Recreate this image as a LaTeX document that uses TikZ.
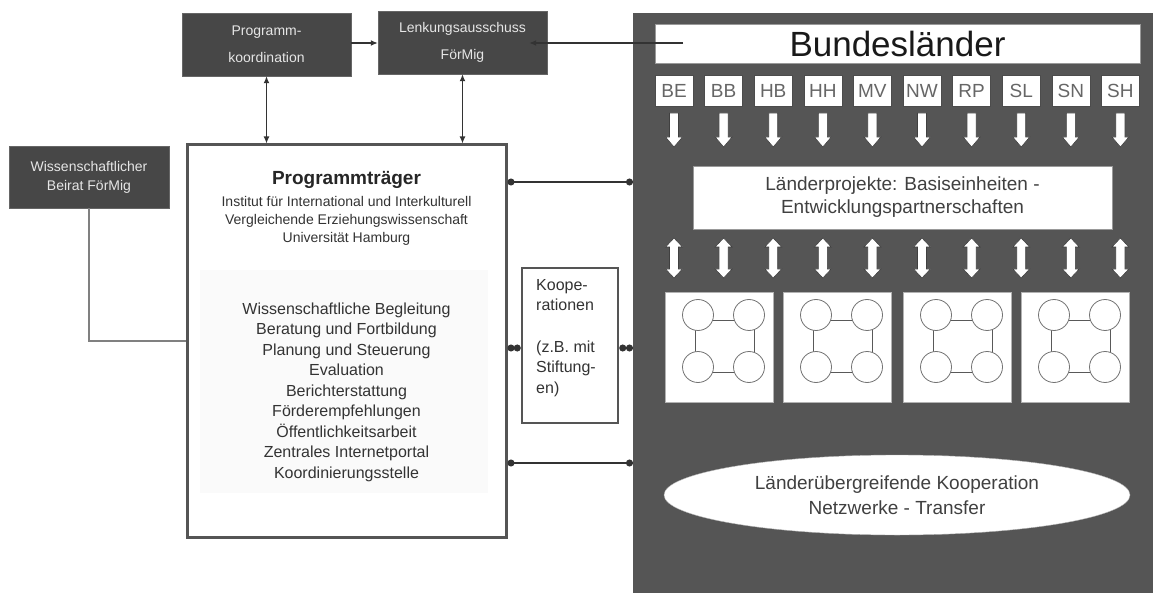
\documentclass[tikz,border=0pt]{standalone}
\usepackage{fontspec}
\setmainfont{Liberation Sans}
\usetikzlibrary{arrows.meta,shapes.geometric,calc}
\definecolor{darkbox}{HTML}{474747}
\definecolor{panelc}{HTML}{555555}
\definecolor{boxtext}{HTML}{E6E6E6}
\definecolor{linec}{HTML}{333333}
\tikzset{
  darkrect/.style={draw=black!60, fill=darkbox, text=boxtext, minimum width=169pt, minimum height=63pt, inner sep=0pt, align=center, font=\fontsize{14}{27}\selectfont},
  abbr/.style={draw=black!70, fill=white, text=black!60, minimum width=38pt, minimum height=31pt, inner sep=0pt, font=\fontsize{19}{22}\selectfont},
  whitebox/.style={draw=black!40, fill=white, inner sep=0pt},
  conn/.style={draw=linec, line width=1.3pt},
  dots/.style={conn, {Circle[length=7pt]}-{Circle[length=7pt]}},
  dblarrow/.style={conn, {Latex[length=7pt,width=6pt]}-{Latex[length=7pt,width=6pt]}},
  onearrow/.style={conn, -{Latex[length=7pt,width=6pt]}},
  blockarrow/.style={fill=white, draw=black!75, line width=0.6pt},
  smallcirc/.style={draw=black!55, fill=white, line width=0.8pt},
}
\begin{document}
\begin{tikzpicture}[x=1pt,y=-1pt]
\useasboundingbox (0,0) rectangle (1153,593);
\fill[white] (0,0) rectangle (1153,593);

% right panel
\node[fill=panelc, draw=none, minimum width=520pt, minimum height=580pt, inner sep=0pt, anchor=north west] (panel) at (633,13) {};

% top dark boxes
\node[darkrect] (pk) at (266.5,44.5) {Programm-\\koordination};
\node[darkrect] (lenk) at (462.5,42.5) {Lenkungsausschuss\\FörMig};
\node[darkrect, minimum width=160pt, minimum height=62pt, font=\fontsize{14}{19}\selectfont] (wiss) at (89,177) {Wissenschaftlicher\\Beirat FörMig};

% Programmtraeger
\node[draw=panelc, line width=3pt, fill=white, minimum width=319pt, minimum height=392pt, inner sep=0pt] (pt) at (346.5,341) {};
\node[fill=black!2, draw=none, minimum width=288pt, minimum height=223pt, inner sep=0pt, anchor=north west] (inner) at (200,270) {};
\node[font=\bfseries\fontsize{19}{22}\selectfont, text=black!85] (pttitle) at (346.5,180) {Programmträger};
\node[align=center, font=\fontsize{14}{18}\selectfont, text=black!80, inner sep=0pt] (ptsub) at (346.5,221) {Institut für International und Interkulturell\\Vergleichende Erziehungswissenschaft\\Universität Hamburg};
\node[align=center, font=\fontsize{16}{20.5}\selectfont, text=black!80, inner sep=0pt] (ptlist) at (346.5,392) {Wissenschaftliche Begleitung\\Beratung und Fortbildung\\Planung und Steuerung\\Evaluation\\Berichterstattung\\Förderempfehlungen\\Öffentlichkeitsarbeit\\Zentrales Internetportal\\Koordinierungsstelle};

% Kooperationen
\node[draw=panelc, line width=2.5pt, fill=white, minimum width=96pt, minimum height=155pt, inner sep=0pt] (koop) at (570,345.5) {};
\node[align=left, anchor=north west, inner sep=0pt, font=\fontsize{16}{20.6}\selectfont, text=black!80] (kooptext) at (536,279) {Koope-\\rationen\\[20.6pt](z.B. mit\\Stiftung-\\en)};

% Bundeslaender
\node[whitebox, minimum width=485pt, minimum height=39pt, font=\fontsize{35}{40}\selectfont, text=black!90] (bl) at (897.5,43.5) {Bundesländer};
\foreach \n [count=\i from 0] in {BE,BB,HB,HH,MV,NW,RP,SL,SN,SH} {
  \node[abbr] (ab\i) at ({674+49.6*\i},90.5) {\n};
  \pgfmathsetmacro{\cx}{674+49.6*\i}
  \path[blockarrow] (\cx-4.5,113) -- (\cx+4.5,113) -- (\cx+4.5,137) -- (\cx+8.5,137) -- (\cx,147) -- (\cx-8.5,137) -- (\cx-4.5,137) -- cycle;
  \path[blockarrow] (\cx,238) -- (\cx+8.5,247) -- (\cx+4.5,247) -- (\cx+4.5,269) -- (\cx+8.5,269) -- (\cx,278) -- (\cx-8.5,269) -- (\cx-4.5,269) -- (\cx-4.5,247) -- (\cx-8.5,247) -- cycle;
}
\node[whitebox, minimum width=419pt, minimum height=63pt, align=center, font=\fontsize{19}{23}\selectfont, text=black!75] (lp) at (902.5,197.5) {Länderprojekte: Basiseinheiten -\\Entwicklungspartnerschaften};

% squares with four circles
\foreach \L [count=\k] in {665,783,903,1021} {
  \node[whitebox, draw=black!30, minimum width=108pt, minimum height=110pt, anchor=north west] (sq\k) at (\L,292) {};
  \draw[black!65, line width=0.8pt] (\L+30,320) rectangle (\L+89,372);
  \node[smallcirc, circle, minimum size=31pt, inner sep=0pt] (c\k a) at (\L+33,315) {};
  \node[smallcirc, circle, minimum size=31pt, inner sep=0pt] (c\k b) at (\L+84,315) {};
  \node[smallcirc, circle, minimum size=31pt, inner sep=0pt] (c\k c) at (\L+33,367) {};
  \node[smallcirc, circle, minimum size=31pt, inner sep=0pt] (c\k d) at (\L+84,367) {};
}

% ellipse
\node[ellipse, fill=white, draw=black!30, minimum width=466pt, minimum height=80pt, inner sep=0pt, align=center, font=\fontsize{19}{25}\selectfont, text=black!75] (ell) at (897,495) {Länderübergreifende Kooperation\\Netzwerke - Transfer};

% connectors
\draw[onearrow] (pk.east |- 0,43) -- (lenk.west |- 0,43);
\coordinate (blin) at (683,43);
\draw[onearrow, shorten >=-18pt] (blin) -- (lenk.east |- 0,43);
\draw[dblarrow] (pk.south) -- (pk.south |- pt.north);
\draw[dblarrow] (lenk.south) -- (lenk.south |- pt.north);
\draw[black!50, line width=2pt] (wiss.south) |- (pt.west);
\draw[dots] (pt.east |- 0,182) -- (panel.west |- 0,182);
\draw[dots] (pt.east |- 0,348) -- (koop.west |- 0,348);
\draw[dots] (koop.east |- 0,348) -- (panel.west |- 0,348);
\draw[dots] (pt.east |- 0,463) -- (panel.west |- 0,463);
\end{tikzpicture}
\end{document}
